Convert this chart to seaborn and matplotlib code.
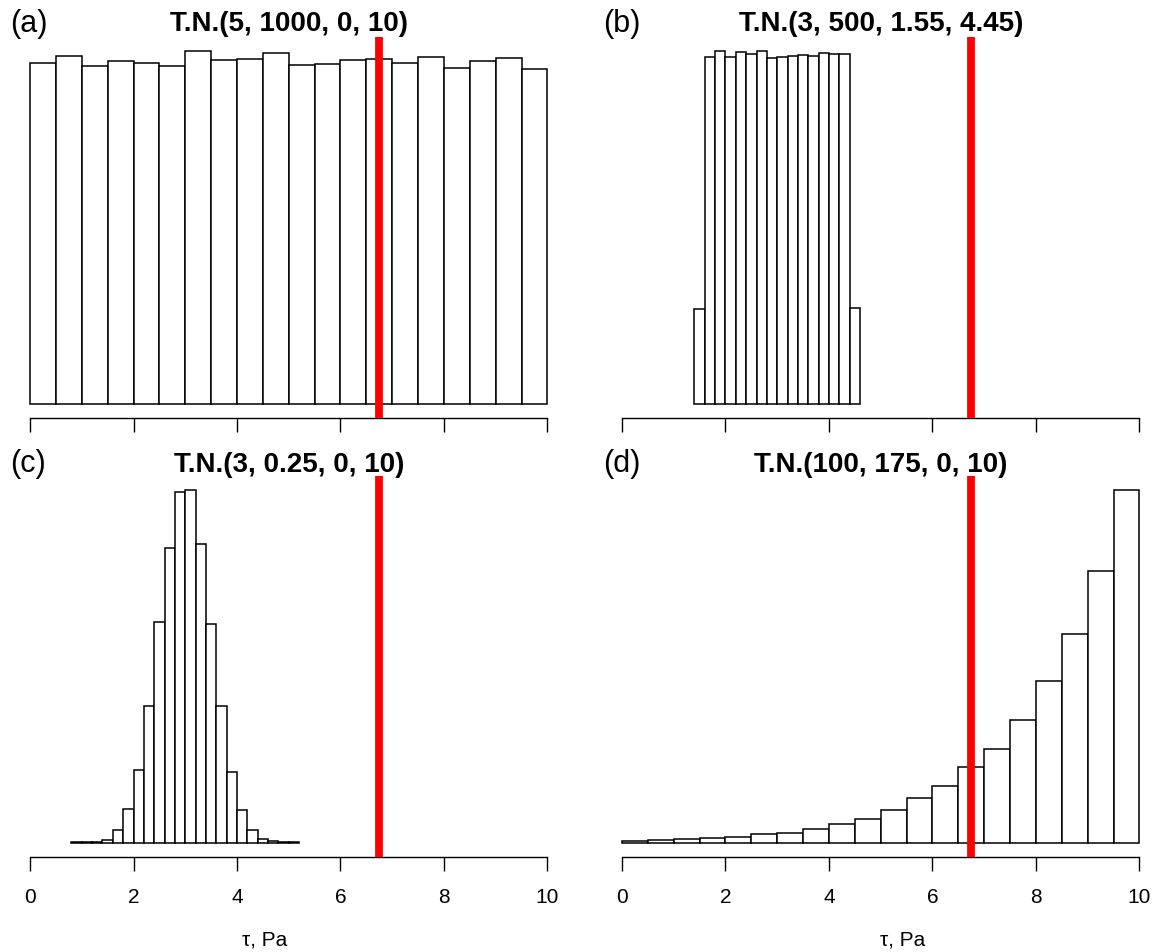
import numpy as np
import pandas as pd
import seaborn as sns
import matplotlib
matplotlib.use("Agg")
import matplotlib.pyplot as plt

sns.set_style("white")
plt.rcParams['font.family'] = ['Liberation Sans', 'DejaVu Sans']
plt.rcParams['text.color'] = 'black'
plt.rcParams['axes.labelcolor'] = 'black'
plt.rcParams['xtick.color'] = 'black'

# histogram bin edges and bar heights (arbitrary count units)
edges_a = [round(0.5 * k, 2) for k in range(21)]
heights_a = [1022, 1042, 1013, 1028, 1022, 1012, 1058, 1031, 1033, 1053,
             1015, 1020, 1031, 1034, 1023, 1039, 1008, 1027, 1038, 1003]

edges_b = [round(1.4 + 0.2 * k, 2) for k in range(17)]
heights_b = [284, 1042, 1059, 1042, 1057, 1049, 1059, 1038,
             1041, 1043, 1047, 1044, 1052, 1049, 1049, 289]

edges_c = [round(0.8 + 0.2 * k, 2) for k in range(23)]
heights_c = [1, 1, 3, 8, 38, 100, 218, 410, 663, 885, 1053,
             1058, 896, 656, 409, 212, 97, 37, 12, 5, 2, 1]

edges_d = [round(0.5 * k, 2) for k in range(21)]
heights_d = [4, 7, 10, 14, 16, 25, 30, 41, 57, 71,
             97, 133, 169, 227, 281, 368, 484, 625, 816, 1058]

titles = ["T.N.(5, 1000, 0, 10)", "T.N.(3, 500, 1.55, 4.45)",
          "T.N.(3, 0.25, 0, 10)", "T.N.(100, 175, 0, 10)"]
tags = ["(a)", "(b)", "(c)", "(d)"]
observed = 6.74
xticks = [0, 2, 4, 6, 8, 10]

panels = [(edges_a, heights_a), (edges_b, heights_b),
          (edges_c, heights_c), (edges_d, heights_d)]

fig = plt.figure(figsize=(11.56, 9.52), dpi=100)
W, H = 1156, 952
ax_w = 0.4745
rects = [
    (0.01253, 1 - 418 / H, ax_w, 381 / H),
    (0.5246, 1 - 418 / H, ax_w, 381 / H),
    (0.01253, 1 - 856.7 / H, ax_w, 380.7 / H),
    (0.5246, 1 - 856.7 / H, ax_w, 380.7 / H),
]
tag_pos = [(10 / W, 1 - 24 / H), (603 / W, 1 - 24 / H),
           (10 / W, 1 - 464 / H), (603 / W, 1 - 464 / H)]
# x-label centres (axes fraction) as they sit in the original
xlab_x = {2: 0.4567, 3: 0.5406}

for i, (edges, heights) in enumerate(panels):
    ax = fig.add_axes(rects[i])
    e = np.array(edges)
    df = pd.DataFrame({"tau": (e[:-1] + e[1:]) / 2, "n": heights})
    sns.histplot(data=df, x="tau", weights="n", bins=list(edges), ax=ax,
                 color="white", edgecolor="black", linewidth=1.1, alpha=1,
                 legend=False)
    ax.axvline(observed, color="red", lw=5.6, solid_capstyle="butt", zorder=5)

    m = max(heights)
    ax.set_ylim(-0.04 * m, 1.04 * m)
    ax.set_xlim(-0.3, 10.3)
    for s in ["top", "left", "right"]:
        ax.spines[s].set_visible(False)
    ax.spines["bottom"].set_bounds(0, 10)
    ax.spines["bottom"].set_linewidth(1.0)
    ax.spines["bottom"].set_color("black")
    ax.set_yticks([])
    ax.set_ylabel("")
    ax.set_xticks(xticks)
    ax.tick_params(axis="x", direction="out", length=10, width=1.0,
                   color="black", pad=12.5, labelsize=15, bottom=True)
    if i < 2:
        ax.set_xticklabels([])
        ax.set_xlabel("")
    else:
        ax.set_xticklabels([str(t) for t in xticks])
        ax.set_xlabel("\u03c4, Pa", fontsize=15, va="baseline")
        ax.xaxis.set_label_coords(xlab_x[i], (856.7 - 945) / 380.7)
    ax.set_title(titles[i], fontsize=20, fontweight="bold", pad=2.7)
    fig.text(tag_pos[i][0], tag_pos[i][1], tags[i], fontsize=22,
             ha="left", va="center")

fig.savefig("out.png", dpi=100)
